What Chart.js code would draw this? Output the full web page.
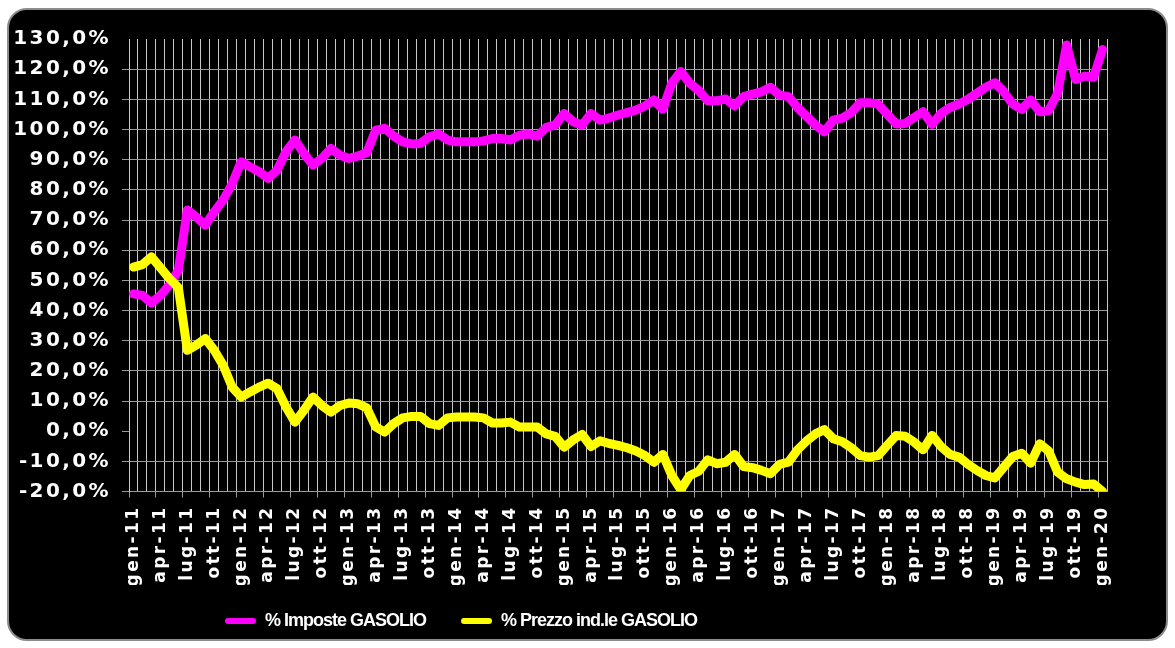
<!DOCTYPE html>
<html><head><meta charset="utf-8">
<script src="https://cdn.jsdelivr.net/npm/chart.js@4"></script>
<style>
html,body{margin:0;padding:0;background:#fff;width:1175px;height:648px;overflow:hidden}
#frame{position:absolute;left:7px;top:8px;width:1157px;height:629px;background:#000;border:2px solid #8c8c8c;border-radius:20px}
#c{position:absolute;left:0;top:0}
</style></head><body>
<div id="frame"></div>
<canvas id="c" width="1175" height="648"></canvas>
<script>
const months = ['gen','feb','mar','apr','mag','giu','lug','ago','set','ott','nov','dic'];
const years = ['11','12','13','14','15','16','17','18','19','20'];
const categories = [];
years.forEach(y => months.forEach(m => { if (y !== '20' || m === 'gen') categories.push(m + '-' + y); }));

const imposteGasolio = [
 45.5,45.0,42.5,45.0,48.4,53.3,73.3,71.0,68.3,72.7,76.6,82.0,
 89.3,87.6,86.0,83.8,86.5,92.6,96.5,92.0,88.2,90.4,93.7,91.5,
 90.4,91.2,92.3,99.8,100.4,97.8,95.9,95.2,95.4,97.6,98.5,96.5,
 95.9,95.9,95.9,96.2,97.0,97.0,96.5,98.1,98.5,97.8,100.7,101.5,
 105.3,102.6,101.5,105.3,103.1,103.8,104.8,105.6,106.4,107.8,109.8,106.7,
 115.3,119.2,115.3,112.9,109.5,109.5,110.1,107.8,110.9,111.7,112.5,114.0,
 111.4,110.9,107.3,104.4,101.5,99.2,103.1,103.8,105.6,108.9,108.9,108.4,
 105.1,101.8,102.0,104.0,105.9,101.7,105.3,107.3,108.4,110.0,112.0,114.0,
 115.5,112.5,108.4,106.7,109.8,105.9,106.2,112.0,128.0,116.6,117.7,117.3,
 126.5
];
const prezzoIndGasolio = [
 54.4,55.2,57.8,54.2,50.6,47.6,26.8,28.5,30.7,26.8,21.8,14.6,
 11.3,13.0,14.6,15.9,14.1,8.0,3.0,6.9,11.3,8.5,6.3,8.5,
 9.3,9.1,7.7,1.4,-0.3,2.5,4.4,4.9,4.9,2.5,1.9,4.4,
 4.7,4.7,4.7,4.4,2.7,2.7,3.0,1.4,1.4,1.4,-0.9,-1.7,
 -5.3,-2.9,-1.1,-5.1,-3.2,-4.1,-4.7,-5.5,-6.6,-8.1,-10.3,-7.7,
 -14.7,-19.4,-14.7,-13.3,-9.5,-10.8,-10.3,-7.7,-11.7,-12.1,-13.0,-14.1,
 -11.0,-10.3,-6.2,-3.3,-0.9,0.5,-2.5,-3.5,-5.5,-8.1,-8.6,-8.1,
 -4.7,-1.4,-1.7,-3.6,-6.2,-1.4,-5.1,-7.7,-8.6,-11.0,-13.0,-14.7,
 -15.5,-11.9,-8.4,-7.3,-10.6,-4.2,-6.6,-13.6,-15.8,-16.9,-17.7,-17.5,
 -20.0
];
const yTickMin = -20, yTickMax = 130, yTickStep = 10;

const PLOT_LEFT = 129, PLOT_BOTTOM = 491.5, LEGEND_X = 225, LEGEND_Y = 621, LEGEND_FONT = 18;
const GRID_H = '#9a9a9a', GRID_V = '#c8c8c8';

function withSpacing(obj, method, spacing) {
  const orig = obj[method];
  obj[method] = function (...args) {
    const c = this.ctx; const prev = c.letterSpacing;
    c.letterSpacing = spacing;
    const r = orig.apply(this, args);
    c.letterSpacing = prev || '0px';
    return r;
  };
}
const letterSpacingPlugin = {
  id: 'ls',
  beforeDraw(chart) {
    Object.values(chart.scales).forEach(s => {
      if (s._lsWrapped) return;
      withSpacing(s, 'drawLabels', '2.4px');
      s._lsWrapped = true;
    });
    const lg = chart.legend;
    if (lg && !lg._lsWrapped) { withSpacing(lg, 'draw', '-1px'); lg._lsWrapped = true; }
  }
};
const legendPlace = {
  id: 'legendPlace',
  afterLayout(chart) {
    const lg = chart.legend; if (!lg) return;
    const pad = lg.options.labels.padding;
    lg.left = LEGEND_X - pad; lg.right = 1175;
    lg.top = LEGEND_Y - pad - LEGEND_FONT / 2; lg.bottom = lg.top + lg.height;
  }
};

new Chart(document.getElementById('c'), {
  type: 'line',
  data: {
    labels: categories,
    datasets: [
      { label: '% Imposte GASOLIO', data: imposteGasolio, borderColor: '#ff00ff', backgroundColor: '#ff00ff',
        borderWidth: 9, pointRadius: 0, tension: 0, borderJoinStyle: 'round', borderCapStyle: 'round', order: 1 },
      { label: '% Prezzo ind.le GASOLIO', data: prezzoIndGasolio, borderColor: '#ffff00', backgroundColor: '#ffff00',
        borderWidth: 9, pointRadius: 0, tension: 0, borderJoinStyle: 'round', borderCapStyle: 'round', order: 0 }
    ]
  },
  options: {
    responsive: false, animation: false, devicePixelRatio: 1,
    layout: { padding: { left: 0, right: 68, top: 39, bottom: 0 } },
    plugins: {
      tooltip: { enabled: false },
      legend: {
        position: 'bottom', align: 'start',
        labels: {
          color: '#fff', boxWidth: 31, boxHeight: 6, padding: 35, useBorderRadius: true, borderRadius: 3,
          font: { family: "'Liberation Sans Narrow', 'Liberation Sans', Arial", weight: 'bold', size: LEGEND_FONT },
          generateLabels: chart => chart.data.datasets.map((d, i) => ({
            text: d.label, fillStyle: d.borderColor, strokeStyle: d.borderColor, lineWidth: 0,
            borderRadius: 3, datasetIndex: i, hidden: false, fontColor: '#fff'
          }))
        }
      }
    },
    scales: {
      x: {
        offset: true,
        grid: {
          offset: true, lineWidth: 1, tickLength: 6,
          color: c => c.index >= categories.length ? 'rgba(0,0,0,0)' : GRID_V,
          tickColor: c => (c.index % 3 === 0 && c.index < categories.length) ? GRID_H : 'rgba(0,0,0,0)'
        },
        border: { color: GRID_H },
        ticks: {
          autoSkip: false, minRotation: 90, maxRotation: 90, padding: 8, color: '#fff',
          font: { family: 'DejaVu Sans', weight: 'bold', size: 17 },
          callback: (v, i) => (i % 3 === 0 ? categories[i] : '')
        },
        afterFit: s => { s.height = 648 - PLOT_BOTTOM - (s.chart.legend ? s.chart.legend.height : 0); }
      },
      y: {
        min: yTickMin, max: yTickMax,
        grid: {
          lineWidth: 1, tickLength: 7,
          color: c => (c.tick && (c.tick.value === 0 || c.tick.value === yTickMax)) ? 'rgba(0,0,0,0)' : GRID_H,
          tickColor: c => (c.tick && c.tick.value === yTickMax) ? 'rgba(0,0,0,0)' : GRID_H
        },
        border: { color: GRID_V },
        ticks: {
          stepSize: yTickStep, padding: 11, color: '#fff',
          font: { family: 'DejaVu Sans', weight: 'bold', size: 20 },
          callback: v => v.toFixed(1).replace('.', ',') + '%'
        },
        afterFit: s => { s.width = PLOT_LEFT; }
      }
    }
  },
  plugins: [letterSpacingPlugin, legendPlace]
});
</script>
</body></html>
